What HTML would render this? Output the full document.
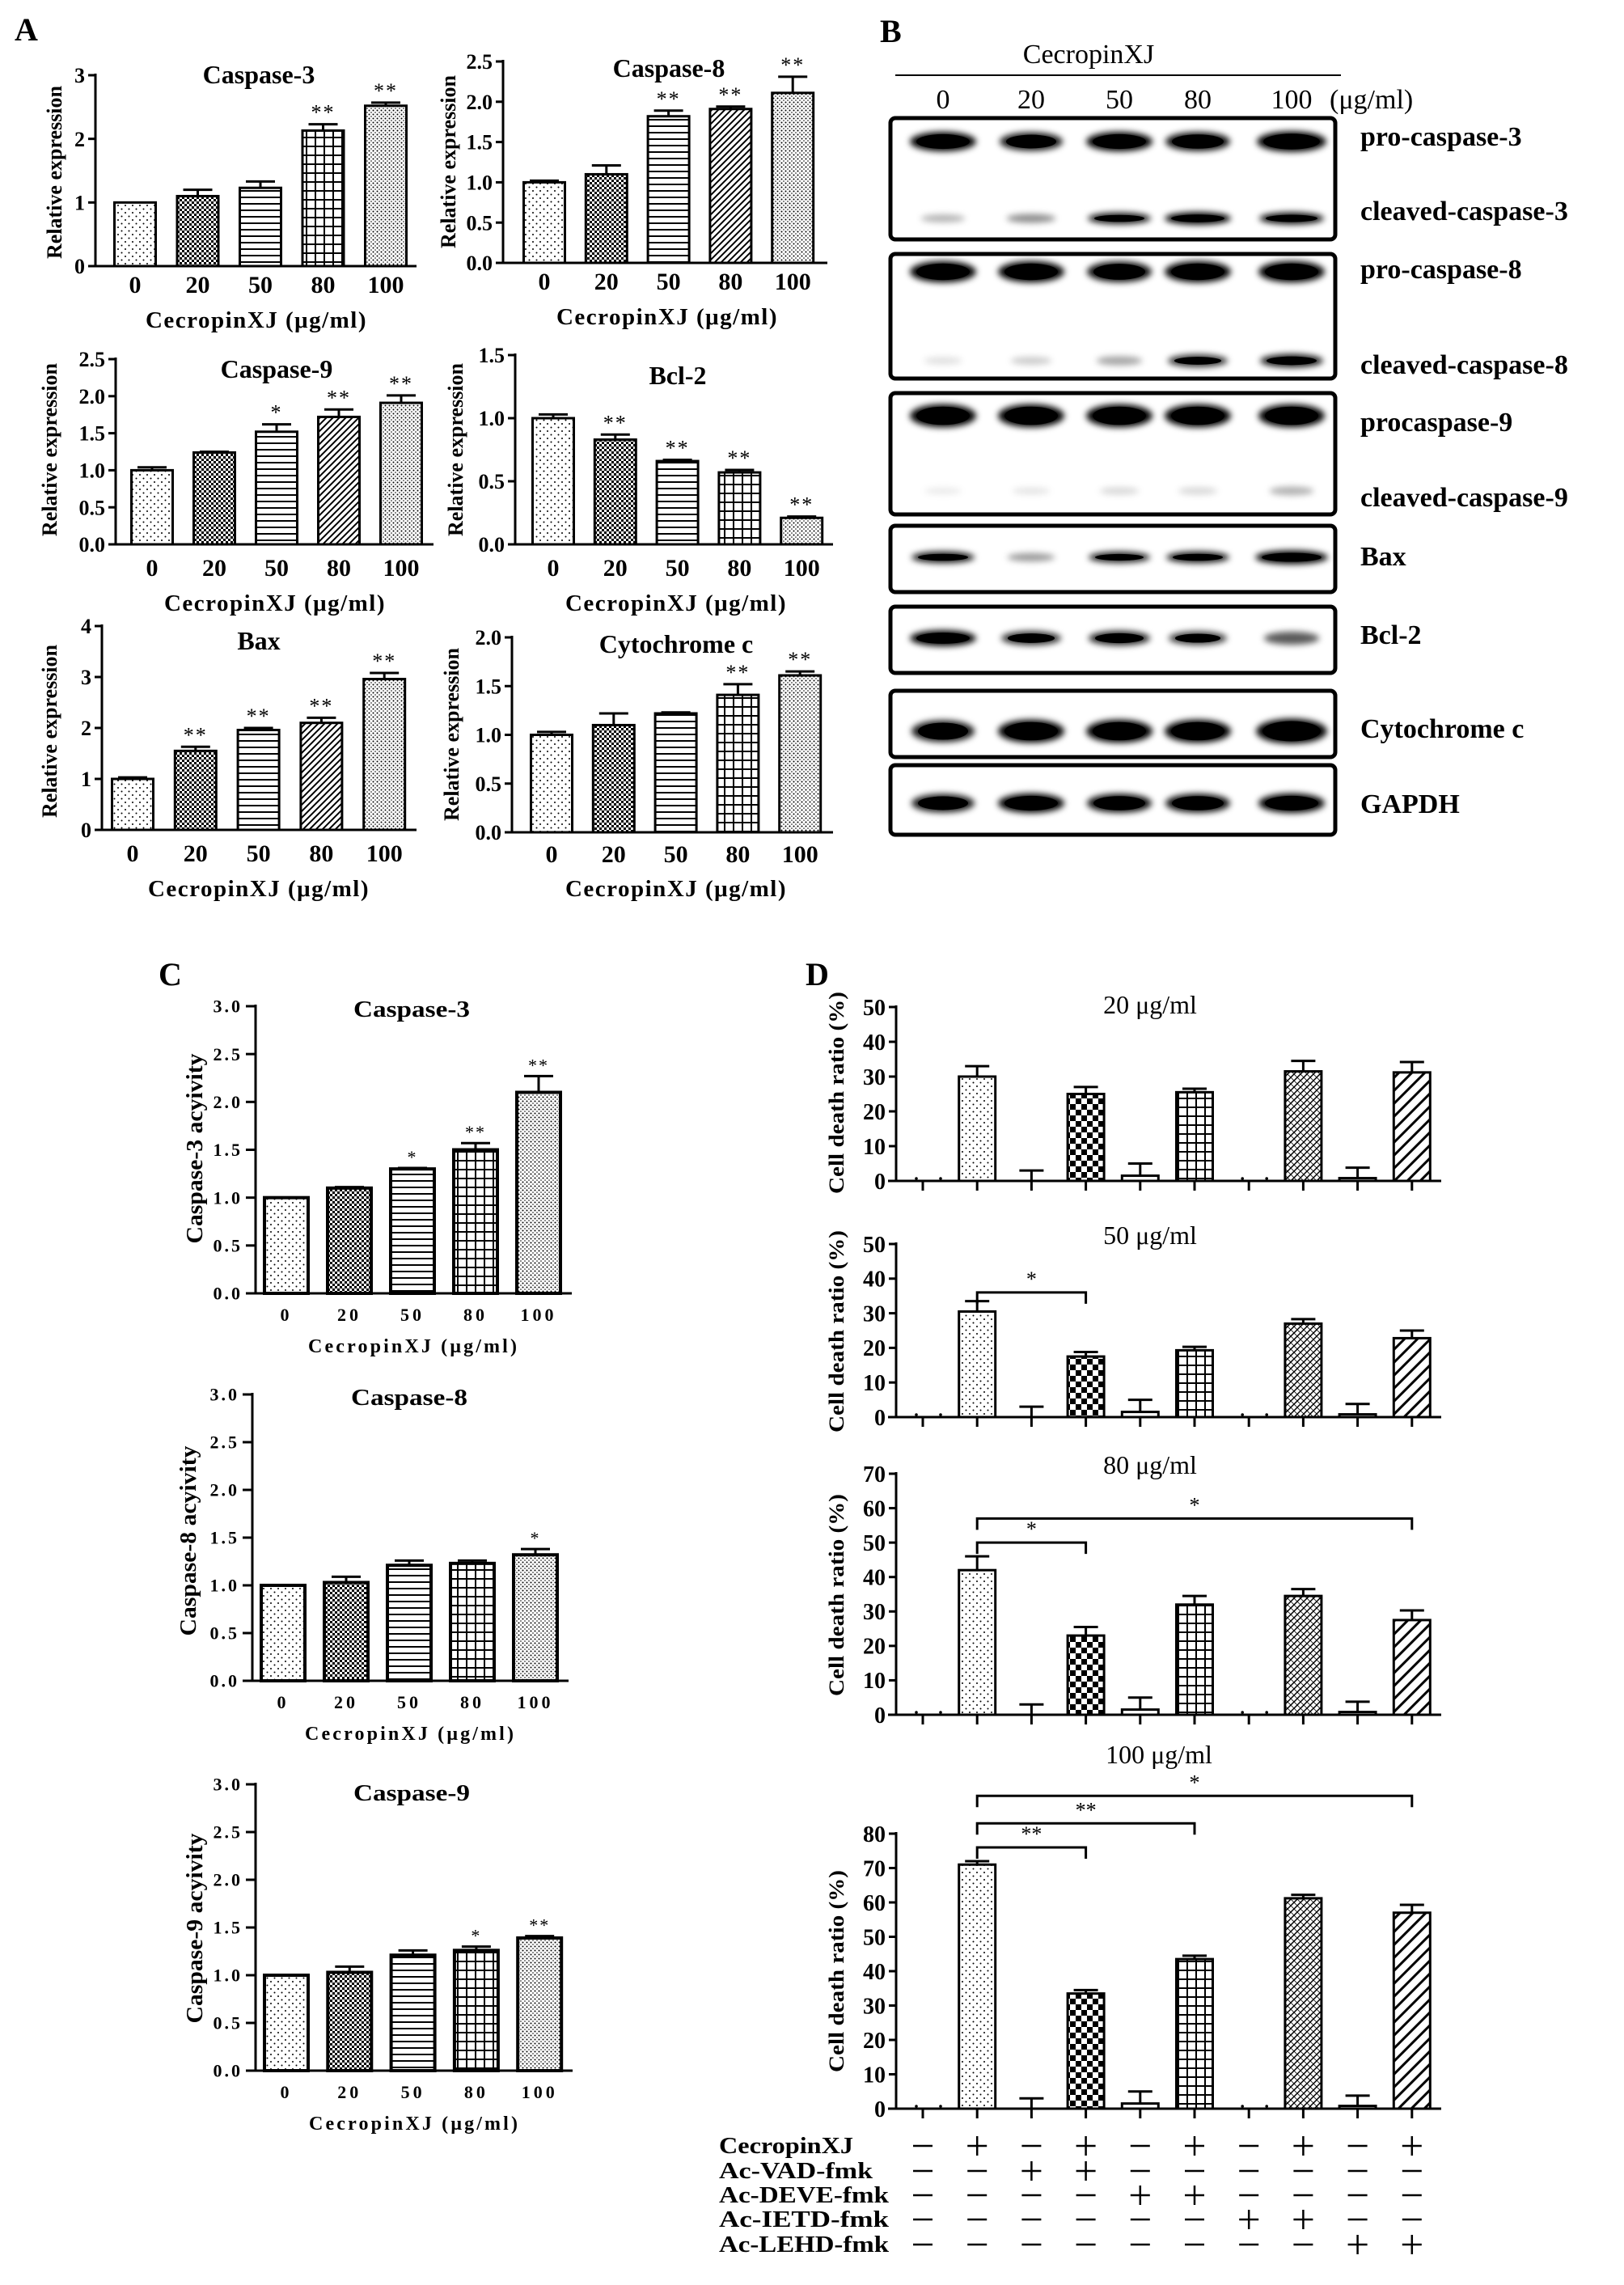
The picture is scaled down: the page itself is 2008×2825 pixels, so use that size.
<!DOCTYPE html>
<html><head><meta charset="utf-8"><style>
html,body{margin:0;padding:0;background:#fff}
svg{display:block}
text{font-family:"Liberation Serif",serif;fill:#000}
</style></head><body>
<svg id="fig" width="2008" height="2825" viewBox="0 0 2008 2825" xmlns="http://www.w3.org/2000/svg">
<defs>
<pattern id="pDots" width="9" height="9" patternUnits="userSpaceOnUse"><rect width="9" height="9" fill="#fff"/><circle cx="2" cy="2" r="1" fill="#000"/><circle cx="6.5" cy="6.5" r="1" fill="#000"/></pattern>
<pattern id="pCheck" width="6" height="6" patternUnits="userSpaceOnUse"><rect width="6" height="6" fill="#fff"/><rect width="3" height="3" fill="#000"/><rect x="3" y="3" width="3" height="3" fill="#000"/></pattern>
<pattern id="pCheckBig" width="14" height="14" patternUnits="userSpaceOnUse"><rect width="14" height="14" fill="#fff"/><rect width="7" height="7" fill="#000"/><rect x="7" y="7" width="7" height="7" fill="#000"/></pattern>
<pattern id="pH" width="8" height="8" patternUnits="userSpaceOnUse"><rect width="8" height="8" fill="#fff"/><rect y="3" width="8" height="2" fill="#000"/></pattern>
<pattern id="pGrid" width="11" height="11" patternUnits="userSpaceOnUse"><rect width="11" height="11" fill="#fff"/><rect y="4" width="11" height="2" fill="#000"/><rect x="4" width="2" height="11" fill="#000"/></pattern>
<pattern id="pDiag" width="8" height="8" patternUnits="userSpaceOnUse"><rect width="8" height="8" fill="#fff"/><path d="M-2,10 L10,-2 M-2,2 L2,-2 M6,10 L10,6" stroke="#000" stroke-width="2"/></pattern>
<pattern id="pDense" width="5" height="5" patternUnits="userSpaceOnUse"><rect width="5" height="5" fill="#fff"/><circle cx="1.5" cy="1.5" r="1" fill="#000"/><circle cx="4" cy="4" r="0.8" fill="#000"/></pattern>
<pattern id="pCross" width="8" height="8" patternUnits="userSpaceOnUse"><rect width="8" height="8" fill="#fff"/><path d="M-2,10 L10,-2 M-2,2 L2,-2 M6,10 L10,6" stroke="#000" stroke-width="1.5"/><path d="M0,0 L8,8" stroke="#000" stroke-width="0.8"/></pattern>
<pattern id="pWide" width="16" height="16" patternUnits="userSpaceOnUse"><rect width="16" height="16" fill="#fff"/><path d="M-4,20 L20,-4 M-4,4 L4,-4 M12,20 L20,12" stroke="#000" stroke-width="3"/></pattern>
<pattern id="white" width="4" height="4" patternUnits="userSpaceOnUse"><rect width="4" height="4" fill="#fff"/></pattern>
<filter id="blur" x="-30%" y="-100%" width="160%" height="300%"><feGaussianBlur stdDeviation="4"/></filter>
</defs>
<g id="root"></g>
</svg>
<script>
const NS='http://www.w3.org/2000/svg';
const root=document.getElementById('root');
function mk(tag,attrs,parent,txt){const e=document.createElementNS(NS,tag);for(const k in attrs)e.setAttribute(k,attrs[k]);if(txt!==undefined)e.textContent=txt;(parent||root).appendChild(e);return e;}

// ---------- Panel A data ----------
const doseCats=['0','20','50','80','100'];
const a1Values=[1,1.1,1.23,2.13,2.52];const a1Err=[0,0.1,0.1,0.1,0.05];const a1Stars=['','','','**','**'];const a1Ticks=[0,1,2,3];
const a2Values=[1,1.1,1.82,1.91,2.11];const a2Err=[0.02,0.11,0.07,0.03,0.2];const a2Stars=['','','**','**','**'];const a2Ticks=[0,0.5,1,1.5,2,2.5];
const a3Values=[1,1.24,1.52,1.72,1.91];const a3Err=[0.04,0.01,0.1,0.1,0.1];const a3Stars=['','','*','**','**'];const a3Ticks=[0,0.5,1,1.5,2,2.5];
const a4Values=[1,0.83,0.66,0.57,0.21];const a4Err=[0.03,0.04,0.01,0.02,0.01];const a4Stars=['','**','**','**','**'];const a4Ticks=[0,0.5,1,1.5];
const a5Values=[1,1.55,1.96,2.1,2.96];const a5Err=[0.03,0.08,0.04,0.1,0.12];const a5Stars=['','**','**','**','**'];const a5Ticks=[0,1,2,3,4];
const a6Values=[1,1.1,1.22,1.41,1.61];const a6Err=[0.03,0.12,0.01,0.11,0.04];const a6Stars=['','','','**','**'];const a6Ticks=[0,0.5,1,1.5,2];
// ---------- Panel C data ----------
const c1Values=[1,1.1,1.3,1.5,2.1];const c1Err=[0,0.01,0.01,0.07,0.17];const c1Stars=['','','*','**','**'];
const c2Values=[1,1.03,1.21,1.23,1.32];const c2Err=[0,0.06,0.05,0.03,0.06];const c2Stars=['','','','','*'];
const c3Values=[1,1.03,1.21,1.26,1.39];const c3Err=[0,0.06,0.05,0.04,0.02];const c3Stars=['','','','*','**'];
const cTicks=[0,0.5,1,1.5,2,2.5,3];
// ---------- Panel D data ----------
const dGroups=['g1','g2','g3','g4','g5','g6','g7','g8','g9','g10'];
const d1Values=[0,30,0,25,1.5,25.5,0,31.5,0.8,31.2];const d1Err=[0,3,3,2,3.5,1,0,3,3,3];
const d2Values=[0,30.5,0,17.5,1.5,19.3,0,27,0.8,22.8];const d2Err=[0,3,3,1.3,3.5,1,0,1.3,3,2.2];
const d3Values=[0,42,0,23,1.5,32,0,34.5,0.8,27.5];const d3Err=[0,4,3,2.5,3.5,2.5,0,2,3,2.8];
const d4Values=[0,71,0,33.5,1.5,43.5,0,61.2,0.8,57];const d4Err=[0,1,3,1,3.5,1,0,1,3,2.3];
const d2Brackets=[[1,3,36,'*']];
const d3Brackets=[[1,3,50,'*'],[1,9,57,'*']];
const d4Brackets=[[1,3,76,'**'],[1,5,83,'**'],[1,9,91,'*']];
const d1Ticks=[0,10,20,30,40,50];const d3Ticks=[0,10,20,30,40,50,60,70];const d4Ticks=[0,10,20,30,40,50,60,70,80];
const treatRows=['CecropinXJ','Ac-VAD-fmk','Ac-DEVE-fmk','Ac-IETD-fmk','Ac-LEHD-fmk'];
const treatSigns=[
 ['-','+','-','+','-','+','-','+','-','+'],
 ['-','-','+','+','-','-','-','-','-','-'],
 ['-','-','-','-','+','+','-','-','-','-'],
 ['-','-','-','-','-','-','+','+','-','-'],
 ['-','-','-','-','-','-','-','-','+','+']];

function fmt(v,dec){return dec?v.toFixed(1):String(v);}

function barChart(c){
  const g=mk('g',{});
  
  
  const ymax=c.ticks[c.ticks.length-1];
  const y=v=>c.yb-(v/ymax)*(c.yb-c.yt);
  const x=i=>c.first+i*c.step;
  c.values.forEach((v,i)=>{
    if(c.skip&&c.skip[i]&&v===0)return;
    const r=mk('rect',{x:x(i)-c.bw/2,y:y(v),width:c.bw,height:Math.max(0,c.yb-y(v)),fill:'url(#'+c.fills[i]+')',stroke:'#000','stroke-width':c.sw},g);
    
    
    const e=c.err[i];
    if(e>0){
      mk('line',{x1:x(i),x2:x(i),y1:y(v),y2:y(v+e),stroke:'#000','stroke-width':3},g);
      mk('line',{x1:x(i)-c.cap,x2:x(i)+c.cap,y1:y(v+e),y2:y(v+e),stroke:'#000','stroke-width':3},g);
    }
    if(c.stars&&c.stars[i]){
      const s=mk('text',{x:x(i),y:y(v+e)-6,'text-anchor':'middle','font-size':c.starFs,'letter-spacing':2},g,c.stars[i]);
      
      
    }
  });
  mk('line',{x1:c.x0,x2:c.x0,y1:c.yt-2,y2:c.yb+1.5,stroke:'#000','stroke-width':c.aw},g);
  mk('line',{x1:c.xStart||c.x0,x2:c.x1,y1:c.yb,y2:c.yb,stroke:'#000','stroke-width':c.aw},g);
  c.ticks.forEach(t=>{
    mk('line',{x1:c.x0-c.tl,x2:c.x0,y1:y(t),y2:y(t),stroke:'#000','stroke-width':c.aw},g);
    const tt=mk('text',{x:c.x0-c.tl-4,y:y(t)+c.tfs*0.35,'text-anchor':'end','font-size':c.tfs,'font-weight':'bold','letter-spacing':c.tls||0},g,fmt(t,c.dec));
    
    
  });
  if(c.xticks){
    c.values.forEach((v,i)=>mk('line',{x1:x(i),x2:x(i),y1:c.yb,y2:c.yb+12,stroke:'#000','stroke-width':c.aw},g));
  }
  if(c.catLabels){
    c.cats.forEach((k,i)=>{
      const t=mk('text',{x:x(i),y:c.catY,'text-anchor':'middle','font-size':c.cfs,'font-weight':'bold','letter-spacing':c.cls||0},g,k);
      
      
    });
  }
  if(c.xlabel){
    const t=mk('text',{x:c.xlx,y:c.xly,'text-anchor':'middle','font-size':c.xlfs,'font-weight':'bold','letter-spacing':c.xlls||0},g,c.xlabel);
    if(c.xlLen)t.setAttribute('textLength',c.xlLen);
    
    
  }
  const yl=mk('text',{x:0,y:0,transform:'translate('+c.ylx+','+c.yly+') rotate(-90)','text-anchor':'middle','font-size':c.ylfs,'font-weight':'bold'},g,c.ylabel);
  if(c.ylLen){yl.setAttribute('textLength',c.ylLen);yl.setAttribute('lengthAdjust','spacingAndGlyphs');}
  
  
  const ti=mk('text',{x:c.tx,y:c.ty,'text-anchor':'middle','font-size':c.titleFs,'font-weight':c.titleW||'bold'},g,c.title);
  if(c.titleLen){ti.setAttribute('textLength',c.titleLen);ti.setAttribute('lengthAdjust','spacingAndGlyphs');}
  
  
  if(c.brackets){
    c.brackets.forEach(b=>{
      const yy=y(b[2]);
      mk('path',{d:'M'+x(b[0])+','+(yy+14)+' V'+yy+' H'+x(b[1])+' V'+(yy+14),fill:'none',stroke:'#000','stroke-width':3},g);
      const s=mk('text',{x:(x(b[0])+x(b[1]))/2,y:yy-8,'text-anchor':'middle','font-size':26},g,b[3]);
      
      
    });
  }
}

const aFills=['pDots','pCheck','pH','pGrid','pDense'];
const aFillsDiag=['pDots','pCheck','pH','pDiag','pDense'];
const xl='CecropinXJ (μg/ml)';
function aCfg(o){return Object.assign({cats:doseCats,bw:51,sw:3,aw:3,tl:9,tfs:26,cap:18,starFs:26,catLabels:true,cfs:30,xlabel:xl,xlfs:29,xlls:1.5,ylabel:'Relative expression',ylfs:26,titleFs:32},o);}
barChart(aCfg({name:'chart-a-caspase3',values:a1Values,err:a1Err,stars:a1Stars,ticks:a1Ticks,dec:false,x0:118,x1:515,yb:329,yt:93,first:167,step:77.5,fills:aFills,catY:362,xlx:317,xly:405,ylx:76,yly:213,tx:320,ty:103,title:'Caspase-3'}));
barChart(aCfg({name:'chart-a-caspase8',values:a2Values,err:a2Err,stars:a2Stars,ticks:a2Ticks,dec:true,x0:622,x1:1023,yb:325,yt:76,first:673,step:76.8,fills:aFillsDiag,catY:358,xlx:825,xly:401,ylx:563,yly:200,tx:827,ty:95,title:'Caspase-8'}));
barChart(aCfg({name:'chart-a-caspase9',values:a3Values,err:a3Err,stars:a3Stars,ticks:a3Ticks,dec:true,x0:143,x1:536,yb:673,yt:444,first:188,step:77,fills:aFillsDiag,catY:712,xlx:340,xly:755,ylx:70,yly:556,tx:342,ty:467,title:'Caspase-9'}));
barChart(aCfg({name:'chart-a-bcl2',values:a4Values,err:a4Err,stars:a4Stars,ticks:a4Ticks,dec:true,x0:637,x1:1030,yb:673,yt:439,first:684,step:76.8,fills:aFills,catY:712,xlx:836,xly:755,ylx:572,yly:556,tx:838,ty:475,title:'Bcl-2'}));
barChart(aCfg({name:'chart-a-bax',values:a5Values,err:a5Err,stars:a5Stars,ticks:a5Ticks,dec:false,x0:126,x1:515,yb:1026,yt:774,first:164,step:77.8,fills:aFillsDiag,catY:1065,xlx:320,xly:1108,ylx:70,yly:904,tx:320,ty:803,title:'Bax'}));
barChart(aCfg({name:'chart-a-cytochrome-c',values:a6Values,err:a6Err,stars:a6Stars,ticks:a6Ticks,dec:true,x0:633,x1:1030,yb:1029,yt:788,first:682,step:76.8,fills:aFills,catY:1066,xlx:836,xly:1108,ylx:567,yly:908,tx:836,ty:807,title:'Cytochrome c'}));

function cCfg(o){return Object.assign({cats:doseCats,ticks:cTicks,dec:true,bw:54,sw:4,aw:3,tl:12,tfs:22,tls:3,cap:18,starFs:22,catLabels:true,cfs:22,cls:4,xlabel:xl,xlfs:24,xlLen:258,ylfs:28,titleFs:28,titleLen:144},o);}
barChart(cCfg({name:'chart-c-caspase3',values:c1Values,err:c1Err,stars:c1Stars,x0:316,x1:707,yb:1599,yt:1244,first:354,step:78,fills:aFills,catY:1633,xlx:510,xly:1672,ylx:250,yly:1420,ylLen:235,ylabel:'Caspase-3 acyivity',tx:509,ty:1257,title:'Caspase-3'}));
barChart(cCfg({name:'chart-c-caspase8',values:c2Values,err:c2Err,stars:c2Stars,x0:312,x1:703,yb:2078,yt:1724,first:350,step:78,fills:aFills,catY:2112,xlx:506,xly:2151,ylx:242,yly:1905,ylLen:235,ylabel:'Caspase-8 acyivity',tx:506,ty:1737,title:'Caspase-8'}));
barChart(cCfg({name:'chart-c-caspase9',values:c3Values,err:c3Err,stars:c3Stars,x0:316,x1:708,yb:2560,yt:2206,first:354,step:78.3,fills:aFills,catY:2594,xlx:511,xly:2633,ylx:250,yly:2384,ylLen:235,ylabel:'Caspase-9 acyivity',tx:509,ty:2226,title:'Caspase-9'}));

function dCfg(o){return Object.assign({cats:dGroups,dec:false,bw:45,sw:3,aw:3,tl:9,tfs:28,cap:15,x0:1108,x1:1782,xStart:1098,first:1141,step:67.2,fills:['pDots','pDots','white','pCheckBig','white','pGrid','white','pCross','white','pWide'],xticks:true,ylabel:'Cell death ratio (%)',ylfs:26,ylLen:250,titleFs:32,titleW:'normal',skip:[true,false,false,false,false,false,true,false,false,false]},o);}
barChart(dCfg({name:'chart-d-20',values:d1Values,err:d1Err,ticks:d1Ticks,yb:1460,yt:1245,ylx:1043,yly:1351,tx:1422,ty:1253,title:'20 μg/ml'}));
barChart(dCfg({name:'chart-d-50',values:d2Values,err:d2Err,ticks:d1Ticks,yb:1752,yt:1538,ylx:1043,yly:1646,tx:1422,ty:1538,title:'50 μg/ml',brackets:d2Brackets}));
barChart(dCfg({name:'chart-d-80',values:d3Values,err:d3Err,ticks:d3Ticks,yb:2120,yt:1822,ylx:1043,yly:1972,tx:1422,ty:1822,title:'80 μg/ml',brackets:d3Brackets}));
barChart(dCfg({name:'chart-d-100',values:d4Values,err:d4Err,ticks:d4Ticks,yb:2607,yt:2267,ylx:1043,yly:2437,tx:1433,ty:2180,title:'100 μg/ml',brackets:d4Brackets}));
[1460,1752,2120,2607].forEach(yb=>{[0,6].forEach(i=>{mk('circle',{cx:1141+i*67.2-8,cy:yb-3,r:1.8,fill:'#000'});mk('circle',{cx:1141+i*67.2+22,cy:yb-3,r:1.8,fill:'#000'});});});

const rowY=[2662,2693,2723,2753,2784];
treatRows.forEach((r,ri)=>{
  const t=mk('text',{x:889,y:rowY[ri],'font-size':28,'font-weight':'bold',textLength:r==='CecropinXJ'?166:(r==='Ac-VAD-fmk'?190:210),lengthAdjust:'spacingAndGlyphs'},root,r);
  
  
  treatSigns[ri].forEach((s,ci)=>{
    const cx=1141+ci*67.2,cy=rowY[ri]-9;
    mk('line',{x1:cx-12,x2:cx+12,y1:cy,y2:cy,stroke:'#000','stroke-width':2.5});
    if(s==='+')mk('line',{x1:cx,x2:cx,y1:cy-12,y2:cy+12,stroke:'#000','stroke-width':2.5});
  });
});

[['A',18,50],['B',1088,52],['C',196,1218],['D',996,1218]].forEach(l=>{
  const t=mk('text',{x:l[1],y:l[2],'font-size':40,'font-weight':'bold'},root,l[0]);
  
  
});

// ---------- Panel B western blot ----------
const laneX=[1166,1275,1384,1481,1597];
const blotBoxes=[[146,296],[314,468],[486,636],[650,732],[750,832],[854,936],[946,1032]];
const bandRows=[
 {y:175,h:22,int:[1,0.9,1,0.95,1.1]},
 {y:270,h:14,int:[0.3,0.45,0.9,1,0.95]},
 {y:336,h:24,int:[1,1,0.95,1,1]},
 {y:446,h:16,int:[0.12,0.2,0.35,0.8,0.9]},
 {y:514,h:26,int:[1,1,1,1,1]},
 {y:607,h:16,int:[0.08,0.1,0.15,0.15,0.3]},
 {y:689,h:14,int:[0.9,0.4,0.85,0.9,1.2]},
 {y:789,h:18,int:[1,0.8,0.85,0.75,0.65]},
 {y:904,h:26,int:[0.9,1,1,1,1.15]},
 {y:993,h:22,int:[0.9,1,0.95,0.95,1]}];
const blotLabels=[['pro-caspase-3',180],['cleaved-caspase-3',272],['pro-caspase-8',344],['cleaved-caspase-8',462],['procaspase-9',533],['cleaved-caspase-9',626],['Bax',699],['Bcl-2',796],['Cytochrome c',912],['GAPDH',1005]];
const gB=mk('g',{});


mk('text',{x:1346,y:78,'text-anchor':'middle','font-size':34},gB,'CecropinXJ');
mk('line',{x1:1107,x2:1658,y1:93,y2:93,stroke:'#000','stroke-width':2},gB);
doseCats.forEach((d,i)=>mk('text',{x:laneX[i],y:134,'text-anchor':'middle','font-size':34},gB,d));
mk('text',{x:1644,y:134,'font-size':34},gB,'(μg/ml)');
bandRows.forEach(b=>{
  b.int.forEach((v,i)=>{
    if(v<=0)return;
    const w=78*Math.min(1.15,0.55+0.5*v), h=b.h*Math.min(1.3,0.5+0.6*v);
    mk('ellipse',{cx:laneX[i],cy:b.y,rx:w/2,ry:h/2,fill:'#000','fill-opacity':Math.min(1,v),filter:'url(#blur)'},gB);
    if(v>0.7)mk('ellipse',{cx:laneX[i],cy:b.y,rx:w/2-8,ry:h/2-3,fill:'#000'},gB);
  });
});
blotBoxes.forEach(bx=>{
  const r=mk('rect',{x:1101,y:bx[0],width:550,height:bx[1]-bx[0],rx:6,fill:'none',stroke:'#000','stroke-width':5},gB);
  
  
});
blotLabels.forEach(l=>{
  const t=mk('text',{x:1682,y:l[1],'font-size':34,'font-weight':'bold'},gB,l[0]);
  
  
});
</script>
</body></html>
